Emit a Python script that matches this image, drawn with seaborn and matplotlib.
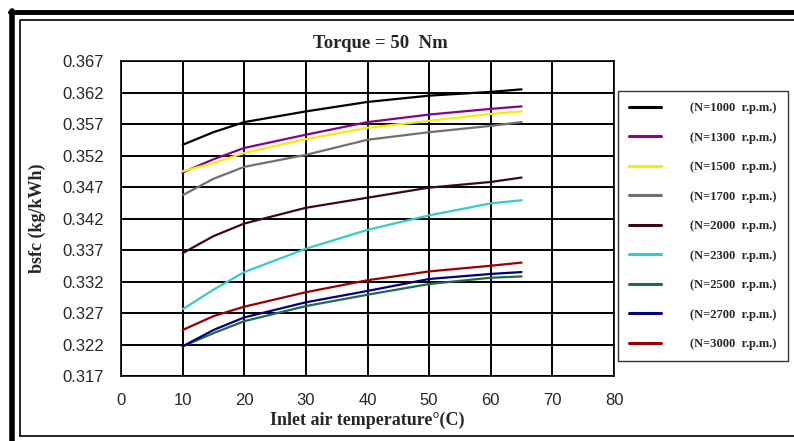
import numpy as np
import pandas as pd
import seaborn as sns
import matplotlib
matplotlib.use("Agg")
import matplotlib.pyplot as plt
from matplotlib.lines import Line2D

# ---------------- data ----------------
temps = [10, 15, 20, 30, 40, 50, 60, 65]
labels = ["(N=1000  r.p.m.)", "(N=1300  r.p.m.)", "(N=1500  r.p.m.)",
          "(N=1700  r.p.m.)", "(N=2000  r.p.m.)", "(N=2300  r.p.m.)",
          "(N=2500  r.p.m.)", "(N=2700  r.p.m.)", "(N=3000  r.p.m.)"]
bsfc_1000 = [0.3537, 0.3557, 0.3573, 0.3590, 0.3605, 0.3615, 0.3621, 0.3625]
bsfc_1300 = [0.3493, 0.3514, 0.3532, 0.3553, 0.3573, 0.3585, 0.3594, 0.3598]
bsfc_1500 = [0.3495, 0.3508, 0.3524, 0.3546, 0.3564, 0.3575, 0.3586, 0.3590]
bsfc_1700 = [0.3457, 0.3483, 0.3502, 0.3521, 0.3545, 0.3557, 0.3567, 0.3573]
bsfc_2000 = [0.3365, 0.3392, 0.3412, 0.3437, 0.3453, 0.3469, 0.3478, 0.3485]
bsfc_2300 = [0.3276, 0.3307, 0.3335, 0.3372, 0.3402, 0.3425, 0.3444, 0.3449]
bsfc_2500 = [0.3217, 0.3238, 0.3257, 0.3281, 0.3299, 0.3316, 0.3326, 0.3328]
bsfc_2700 = [0.3217, 0.3243, 0.3263, 0.3287, 0.3305, 0.3324, 0.3332, 0.3335]
bsfc_3000 = [0.3243, 0.3265, 0.3280, 0.3303, 0.3322, 0.3336, 0.3345, 0.3350]
series = [bsfc_1000, bsfc_1300, bsfc_1500, bsfc_1700, bsfc_2000,
          bsfc_2300, bsfc_2500, bsfc_2700, bsfc_3000]
colors = ["#000000", "#8a008a", "#f0f000", "#707070", "#3a0a14",
          "#33cccc", "#1f6b45", "#000080", "#9a0000"]
yticks = [0.317, 0.322, 0.327, 0.332, 0.337, 0.342, 0.347, 0.352, 0.357, 0.362, 0.367]
xticks = [0, 10, 20, 30, 40, 50, 60, 70, 80]

rows = []
for lab, vals in zip(labels, series):
    for t, v in zip(temps, vals):
        rows.append({"T": t, "bsfc": v, "N": lab})
df = pd.DataFrame(rows)

# ---------------- figure ----------------
sns.set_style("white")
plt.rcParams["font.family"] = ["Liberation Serif", "DejaVu Serif"]

W, H = 794, 441
fig = plt.figure(figsize=(W / 100, H / 100), dpi=100)
ax = fig.add_axes([121 / W, 1 - 376 / H, (614 - 121) / W, (376 - 61) / H])

sns.lineplot(data=df, x="T", y="bsfc", hue="N", palette=dict(zip(labels, colors)),
             hue_order=labels, linewidth=1.6, ax=ax, legend=False, sort=True)

ax.set_xlim(0, 80)
ax.set_ylim(0.317, 0.367)
ax.set_xticks(xticks)
ax.set_yticks(yticks)
ax.set_xticklabels([str(v) for v in xticks])
ax.set_yticklabels([f"{v:.3f}" for v in yticks])
ax.grid(True, color="black", linewidth=1.4)
for s in ax.spines.values():
    s.set_color("black")
    s.set_linewidth(1.2)
ax.tick_params(axis="both", which="major", direction="inout", length=8.5, width=1,
               color="black", labelsize=12, pad=8)
for lbl in ax.get_xticklabels() + ax.get_yticklabels():
    lbl.set_family(["Liberation Sans", "DejaVu Sans"])

ax.set_xlabel("Inlet air temperature°(C)", fontsize=13, fontweight="bold", labelpad=3)
ax.set_ylabel("bsfc (kg/kWh)", fontsize=13, fontweight="bold", labelpad=12)
fig.text(380 / W, 1 - 43 / H, "Torque = 50  Nm", ha="center", va="center",
         fontsize=13.5, fontweight="bold")

handles = [Line2D([0], [0], color=c, lw=2.2) for c in colors]
leg = fig.legend(handles, labels, loc="upper left",
                 bbox_to_anchor=(618 / W, 1 - 91 / H),
                 frameon=True, fancybox=False, fontsize=9,
                 handlelength=2.5, handletextpad=2.4, labelspacing=1.40,
                 borderpad=0.9, borderaxespad=0)
leg.get_frame().set_edgecolor("black")
leg.get_frame().set_linewidth(1.0)
for t in leg.get_texts():
    t.set_fontweight("bold")

# outer frame
fig.add_artist(Line2D([12 / W, 12 / W], [0, 1 - 11 / H], color="black", lw=4,
                      transform=fig.transFigure))
fig.add_artist(Line2D([10 / W, 1], [1 - 12 / H, 1 - 12 / H], color="black", lw=3.5,
                      transform=fig.transFigure))
fig.add_artist(Line2D([20 / W, 20 / W, 1], [1 - 436 / H, 1 - 19.5 / H, 1 - 19.5 / H],
                      color="black", lw=1.2, transform=fig.transFigure))
fig.add_artist(Line2D([20 / W, 1], [1 - 436 / H, 1 - 436 / H],
                      color="black", lw=1.2, transform=fig.transFigure))

fig.savefig("out.png", dpi=100)
